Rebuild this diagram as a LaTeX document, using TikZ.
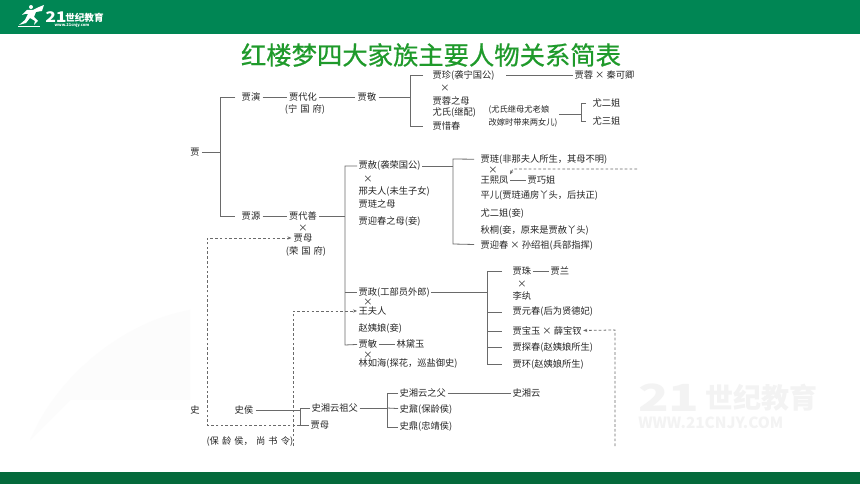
\documentclass[tikz,border=0pt]{standalone}
\usepackage{graphicx}
\usepackage{fontspec}
\setmainfont{Noto Sans CJK SC}
\newfontfamily\titlefont[FakeBold=0.7]{Noto Sans CJK SC}
\usetikzlibrary{arrows.meta,positioning}
\definecolor{headgreen}{HTML}{008654}
\definecolor{footgreen}{HTML}{046A3C}
\definecolor{titlegreen}{HTML}{1F9A2B}
\definecolor{linegray}{HTML}{6A6A6A}
\definecolor{inkgray}{HTML}{262626}
\definecolor{markgray}{HTML}{F3F3F3}
\tikzset{
  lbl/.style={anchor=west,inner sep=1pt,text=inkgray,font=\fontsize{6.95pt}{7pt}\selectfont},
  mid/.style={inner sep=1.5pt,text=inkgray,font=\fontsize{6.95pt}{7pt}\selectfont},
  kin/.style={draw=linegray,line width=0.6pt},
  stub/.style={shorten <=#1,shorten >=#1},
  link/.style={draw=linegray,line width=0.6pt,dash pattern=on 2pt off 1.6pt},
  tip/.style={-{Stealth[length=3pt,width=2.4pt]}}
}
\begin{document}
\begin{tikzpicture}[x=0.75pt,y=-0.75pt]
  \useasboundingbox (0,0) rectangle (860,484);
  % Bands and faint background
  \fill[white] (0,0) rectangle (860,484);
  \fill[headgreen] (0,0) rectangle (860,34);
  \fill[footgreen] (0,472) rectangle (860,484);
  \fill[black!1] (30,440) .. controls (60,370) and (130,320) .. (190,310) -- (190,400) -- (70,400) -- cycle;
  \node[font=\bfseries\itshape\fontsize{11pt}{11pt}\selectfont,text=white,inner sep=0pt,anchor=west] (logonum) at (45,17) {\scalebox{1.2}[1]{21}};
  \node[font=\bfseries\fontsize{7.2pt}{8pt}\selectfont,text=white,inner sep=0pt,anchor=west] (logoname) at (65,18) {世纪教育};
  \node[font=\bfseries\fontsize{3pt}{3pt}\selectfont,text=white,inner sep=0pt] (logourl) at (72,25) {www.21cnjy.com};
  % Runner of the logo
  \fill[white] (31,7) circle (2);
  \fill[white] (22,15) -- (27,10) -- (33,10) -- (39,7) -- (44,5) -- (42,11) -- (36,12) -- (34,17) -- (38,21) -- (34,25) -- (35,21) -- (30,18) -- (26,23) -- (19,25) -- (25,20) -- (28,14) -- (25,14) -- cycle;
  \draw[white,line width=0.4pt] (18,26) -- (40,26);
  % Watermark
  \node[font=\bfseries\itshape\fontsize{28pt}{28pt}\selectfont,text=markgray,inner sep=0pt,anchor=west] (marknum) at (638,398) {\scalebox{1.35}[1]{21}};
  \node[font=\bfseries\fontsize{21pt}{21pt}\selectfont,text=markgray,inner sep=0pt,anchor=west] (markname) at (705,398) {世纪教育};
  \node[font=\bfseries\itshape\fontsize{11.5pt}{12pt}\selectfont,text=markgray,inner sep=0pt,anchor=west] (markurl) at (638,423) {WWW.21CNJY.COM};
  % Title
  \node[font=\titlefont\fontsize{19pt}{20pt}\selectfont,text=titlegreen,inner sep=0pt] (title) at (431,55) {红楼梦四大家族主要人物关系简表};

  % Jia, Ningguo branch
  \node[mid] (jia) at (195,152) {贾};
  \coordinate (jiaspine) at (220,152);
  \coordinate (yanturn) at (220,97);
  \coordinate (yuanturn) at (220,216);
  \node[mid] (jiayan) at (251,97) {贾演};
  \node[mid] (daihua) at (303,97) {贾代化};
  \node[mid] (ningfu) at (305,109) {(宁\,\,国\,\,府)};
  \node[mid] (jiajing) at (367,97) {贾敬};
  \coordinate (jingspine) at (410,97);
  \coordinate (zhenturn) at (410,75);
  \coordinate (xichunturn) at (410,126);
  \node[lbl] (jiazhen) at (431,75) {贾珍(袭宁国公)};
  \node[mid] (zhencross) at (445,88) {×};
  \node[lbl] (rongmu) at (431,101) {贾蓉之母};
  \node[lbl] (youshi) at (431,113) {尤氏(继配)};
  \node[lbl] (xichun) at (431,126) {贾惜春};
  \node[lbl] (jiarong) at (573,75) {贾蓉 × 秦可卿};
  \node[lbl,font=\fontsize{6.2pt}{9.5pt}\selectfont,align=left] (youlao) at (487,116) {(尤氏继母尤老娘\\改嫁时带来两女儿)};
  \coordinate (youspine) at (581,114);
  \coordinate (erturn) at (581,103);
  \coordinate (santurn) at (581,121);
  \node[lbl] (youer) at (591,103) {尤二姐};
  \node[lbl] (yousan) at (591,121) {尤三姐};

  % Rongguo branch
  \node[mid] (jiayuan) at (251,216) {贾源};
  \node[mid] (daishan) at (303,216) {贾代善};
  \node[mid] (shancross) at (303,228) {×};
  \node[mid] (jiamu) at (303,238) {贾母};
  \node[mid] (rongfu) at (306,251) {(荣\,\,国\,\,府)};
  \coordinate (shanspine) at (345,216);
  \coordinate (sheturn) at (345,166);
  \coordinate (zhengturn) at (345,292);
  \coordinate (minturn) at (345,345);
  \node[lbl] (jiashe) at (357,166) {贾赦(袭荣国公)};
  \node[mid] (shecross) at (368,179) {×};
  \node[lbl] (xingfu) at (357,191) {邢夫人(未生子女)};
  \node[lbl] (lianmu) at (357,204) {贾琏之母};
  \node[lbl] (yingmu) at (357,221) {贾迎春之母(妾)};

  % Children of Jia She
  \coordinate (shespine) at (453,166);
  \coordinate (lianturn) at (453,159);
  \coordinate (yingturn) at (453,244);
  \node[lbl] (jialian) at (479,160) {贾琏(非那夫人所生，其母不明)};
  \node[mid] (liancross) at (493,170) {×};
  \node[lbl] (xifeng) at (479,180) {王熙凤};
  \node[lbl] (qiaojie) at (526,180) {贾巧姐};
  \node[lbl] (pinger) at (479,196) {平儿(贾琏通房丫头，后扶正)};
  \node[lbl] (youerq) at (479,213) {尤二姐(妾)};
  \node[lbl] (qiutong) at (479,230) {秋桐(妾，原来是贾赦丫头)};
  \node[lbl] (yingchun) at (479,246) {贾迎春 × 孙绍祖(兵部指挥)};
  \coordinate (fengend) at (637,169);
  \coordinate (fengbend) at (513,169);

  % Jia Zheng and Jia Min
  \node[lbl] (jiazheng) at (357,292) {贾政(工部员外郎)};
  \node[mid] (zhengcross) at (368,302) {×};
  \node[lbl] (wangfu) at (357,311) {王夫人};
  \node[lbl] (zhaoyi) at (357,328) {赵姨娘(妾)};
  \node[lbl] (jiamin) at (357,344) {贾敏};
  \node[lbl] (daiyu) at (395,344) {林黛玉};
  \node[mid] (mincross) at (368,355) {×};
  \node[lbl] (ruhai) at (357,364) {林如海(探花，巡盐御史)};
  \coordinate (zhengspine) at (487,292);
  \coordinate (zhuturn) at (487,271);
  \coordinate (yuanturnb) at (487,312);
  \coordinate (baoturn) at (487,331);
  \coordinate (tanturn) at (487,347);
  \coordinate (huanturn) at (487,364);
  \node[lbl] (jiazhu) at (511,271) {贾珠};
  \node[lbl] (jialan) at (549,271) {贾兰};
  \node[mid] (zhucross) at (522,284) {×};
  \node[lbl] (liwan) at (511,296) {李纨};
  \node[lbl] (yuanchun) at (511,312) {贾元春(后为贤德妃)};
  \node[lbl] (baoyu) at (511,331) {贾宝玉 × 薛宝钗};
  \node[lbl] (tanchun) at (511,347) {贾探春(赵姨娘所生)};
  \node[lbl] (jiahuan) at (511,364) {贾环(赵姨娘所生)};

  % Shi family
  \node[mid] (shi) at (195,410) {史};
  \node[mid] (shihou) at (244,410) {史侯};
  \node[lbl] (baoling) at (205,441) {(保\,\,龄\,\,侯，\,\,尚\,\,书\,\,令)};
  \coordinate (houspine) at (300,410);
  \coordinate (zufuturn) at (300,408);
  \coordinate (muturn) at (300,425);
  \node[lbl] (zufu) at (310,408) {史湘云祖父};
  \node[lbl] (jiamub) at (309,425) {贾母};
  \coordinate (zufuspine) at (387,408);
  \coordinate (futurn) at (387,393);
  \coordinate (dingturn) at (387,427);
  \node[lbl] (yunfu) at (398,393) {史湘云之父};
  \node[lbl] (shinai) at (398,410) {史鼐(保龄侯)};
  \node[lbl] (shiding) at (398,427) {史鼎(忠靖侯)};
  \node[lbl] (xiangyun) at (511,393) {史湘云};

  % Solid connectors, Ningguo
  \draw[kin] (jia) -- (jiaspine);
  \draw[kin,stub=3pt] (jiayan) -- (yanturn) -- (yuanturn) -- (jiayuan);
  \draw[kin] (jiayan) -- (daihua);
  \draw[kin] (daihua) -- (jiajing);
  \draw[kin] (jiajing) -- (jingspine);
  \draw[kin,stub=6pt] (jiazhen) -- (zhenturn) -- (xichunturn) -- (xichun);
  \draw[kin] (jiazhen.east) ++(10,0) -- (jiarong);
  \draw[kin] (youlao.east |- youspine) -- (youspine);
  \draw[kin,stub=3.75pt] (youer) -- (erturn) -- (santurn) -- (yousan);
  % Solid connectors, Rongguo
  \draw[kin] (jiayuan) -- (daishan);
  \draw[kin] (daishan) -- (shanspine);
  \draw[kin] (jiashe) -- (sheturn) -- (minturn) -- (jiamin);
  \draw[kin] (zhengturn) -- (jiazheng);
  \draw[kin] (jiamin) -- (daiyu);
  \draw[kin] (jiashe) -- (shespine);
  \draw[kin,stub=3.75pt] (jialian) -- (lianturn) -- (yingturn) -- (yingchun);
  \draw[kin] (xifeng) -- (qiaojie);
  \draw[kin] (jiazheng) -- (zhengspine);
  \draw[kin,stub=6.75pt] (jiazhu) -- (zhuturn) -- (huanturn) -- (jiahuan);
  \draw[kin] (jiazhu) -- (jialan);
  \draw[kin,shorten >=6.75pt] (yuanturnb) -- (yuanchun);
  \draw[kin,shorten >=6.75pt] (baoturn) -- (baoyu);
  \draw[kin,shorten >=6.75pt] (tanturn) -- (tanchun);
  % Solid connectors, Shi
  \draw[kin] (shihou) -- (houspine);
  \draw[kin] (zufu) -- (zufuturn) -- (muturn) -- (jiamub);
  \draw[kin] (zufu) -- (zufuspine);
  \draw[kin] (yunfu) -- (futurn) -- (dingturn) -- (shiding);
  \draw[kin] (zufuspine) -- (shinai);
  \draw[kin] (yunfu) -- (xiangyun);

  % Dashed links
  \coordinate (muleft) at (207,238);
  \coordinate (mulow) at (207,425);
  \coordinate (wangleft) at (293,311);
  \coordinate (wanglow) at (293,446);
  \coordinate (baoright) at (615,330);
  \coordinate (baolow) at (615,446);
  \draw[link,tip] (muturn) -- (mulow) -- (muleft) -- (jiamu);
  \draw[link,tip] (wanglow) -- (wangleft) -- (wangfu);
  \draw[link,tip] (baolow) -- (baoright) -- (baoyu);
  \draw[link,tip] (fengend) -- (fengbend) -- (xifeng.north east);
\end{tikzpicture}
\end{document}
